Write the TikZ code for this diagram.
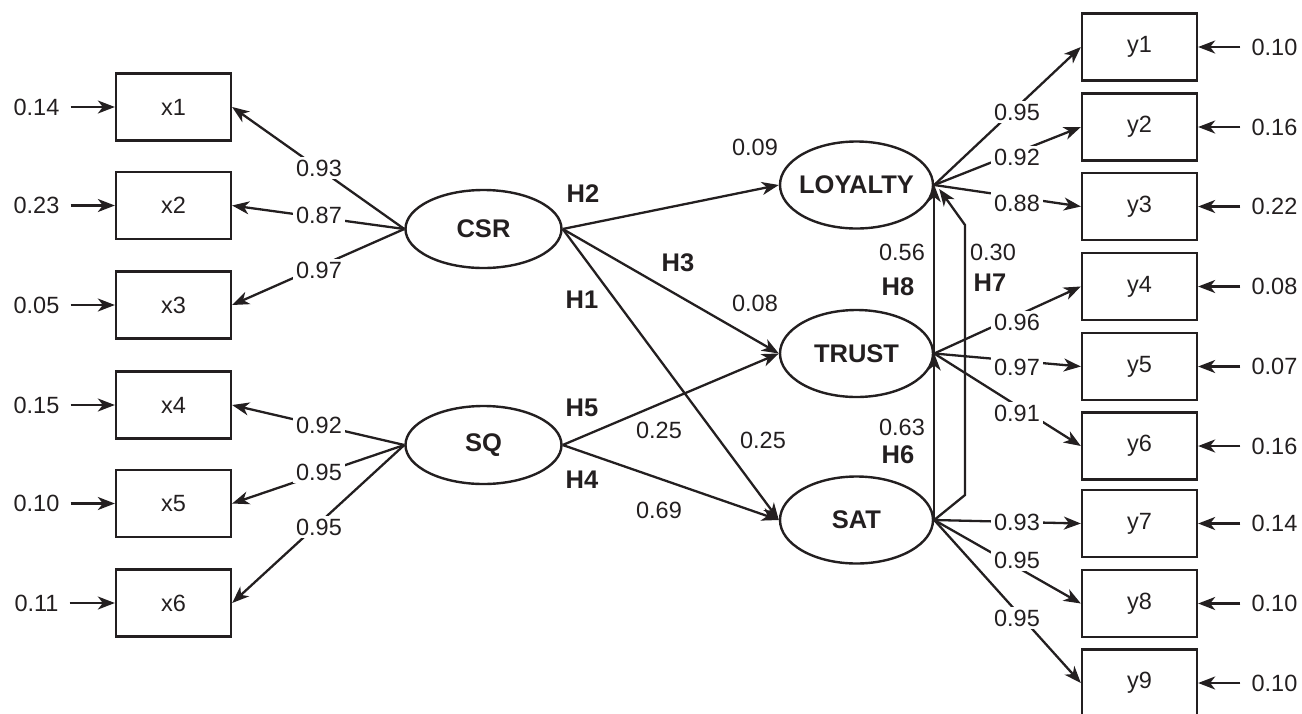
\documentclass[tikz,border=0pt]{standalone}
\usepackage{fontspec}
\setmainfont{Liberation Sans}
\usetikzlibrary{shapes.geometric,arrows.meta}
\definecolor{ink}{HTML}{231F20}

\tikzset{
  num/.style={font=\fontsize{23.5}{28}\selectfont},
  obs/.style={draw, rectangle, minimum width=115pt, minimum height=67pt,
              inner sep=0pt, num},
  lat/.style={draw, ellipse, minimum width=156pt, minimum height=78pt,
              inner sep=0pt, line width=2.4pt,
              font=\fontsize{25.5}{30}\selectfont\bfseries},
  endo/.style={lat, minimum width=153pt, minimum height=87pt},
  arr/.style={-{Stealth[length=17pt,width=13pt,inset=5pt]}},
  res/.style={num, inner xsep=10pt, inner ysep=2pt},
  ld/.style={num, fill=white, inner sep=3pt},
  coef/.style={num, inner sep=1pt},
  hyp/.style={inner sep=1pt, font=\fontsize{25.5}{30}\selectfont\bfseries}
}

\begin{document}
\begin{tikzpicture}[x=1pt, y=-1pt, line width=2.3pt, color=ink]
\useasboundingbox (0,0) rectangle (1302,713);

% latent variables (labels in zero-width boxes so the ellipse keeps its size)
\node[lat]  (csr)   at (483.5,229)   {\makebox[0pt]{CSR}};
\node[lat]  (sq)    at (483.5,445)   {\makebox[0pt]{SQ}};
\node[endo] (loy)   at (856.5,185)   {\makebox[0pt]{LOYALTY}};
\node[endo] (trust) at (856.5,353.5) {\makebox[0pt]{TRUST}};
\node[endo] (sat)   at (856.5,520)   {\makebox[0pt]{SAT}};

% exogenous indicators
\node[obs] (x1) at (173.5,107)   {x1};
\node[obs] (x2) at (173.5,205.5) {x2};
\node[obs] (x3) at (173.5,305)   {x3};
\node[obs] (x4) at (173.5,405)   {x4};
\node[obs] (x5) at (173.5,503.5) {x5};
\node[obs] (x6) at (173.5,603)   {x6};

% endogenous indicators
\node[obs] (y1) at (1139.5,47)    {y1};
\node[obs] (y2) at (1139.5,127)   {y2};
\node[obs] (y3) at (1139.5,206.5) {y3};
\node[obs] (y4) at (1139.5,286.5) {y4};
\node[obs] (y5) at (1139.5,366.5) {y5};
\node[obs] (y6) at (1139.5,446)   {y6};
\node[obs] (y7) at (1139.5,523.5) {y7};
\node[obs] (y8) at (1139.5,603.5) {y8};
\node[obs] (y9) at (1139.5,683)   {y9};

% error terms, left
\node[res] (e1) at (36.5,107)   {0.14};
\node[res] (e2) at (36.5,205.5) {0.23};
\node[res] (e3) at (36.5,305)   {0.05};
\node[res] (e4) at (36.5,405)   {0.15};
\node[res] (e5) at (36.5,503.5) {0.10};
\node[res] (e6) at (36.5,603)   {0.11};
\foreach \i in {1,...,6} \draw[arr] (e\i.east) -- (x\i.west);

% error terms, right
\node[res] (d1) at (1274.5,47)    {0.10};
\node[res] (d2) at (1274.5,127)   {0.16};
\node[res] (d3) at (1274.5,206.5) {0.22};
\node[res] (d4) at (1274.5,286.5) {0.08};
\node[res] (d5) at (1274.5,366.5) {0.07};
\node[res] (d6) at (1274.5,446)   {0.16};
\node[res] (d7) at (1274.5,523.5) {0.14};
\node[res] (d8) at (1274.5,603.5) {0.10};
\node[res] (d9) at (1274.5,683)   {0.10};
\foreach \i in {1,...,9} \draw[arr] (d\i.west) -- (y\i.east);

% measurement paths
\foreach \i in {1,2,3} \draw[arr] (csr.west) -- (x\i.east);
\foreach \i in {4,5,6} \draw[arr] (sq.west) -- (x\i.east);
\foreach \i in {1,2,3} \draw[arr] (loy.east) -- (y\i.west);
\foreach \i in {4,5,6} \draw[arr] (trust.east) -- (y\i.west);
\foreach \i in {7,8,9} \draw[arr] (sat.east) -- (y\i.west);

% structural paths
\draw[arr] (csr.east) -- (loy.west);
\draw[arr] (csr.east) -- (trust.west);
\draw[arr] (csr.east) -- (sat.west);
\draw[arr] (sq.east) -- (trust.west);
\draw[arr] (sq.east) -- (sat.west);
\draw[arr] (sat.east) -- (trust.east);
\draw[arr] (trust.east) -- (loy.east);
\coordinate (h7a) at (965,495);
\coordinate (h7b) at (965,225);
\draw[arr] (sat.east) -- (h7a) -- (h7b) -- ([shift={(5,4)}]loy.east);

% loadings
\node[ld] at (319,168) {0.93};
\node[ld] at (319,215) {0.87};
\node[ld] at (319,270) {0.97};
\node[ld] at (319,425) {0.92};
\node[ld] at (319,472) {0.95};
\node[ld] at (319,527) {0.95};
\node[ld] at (1017,112) {0.95};
\node[ld] at (1017,157) {0.92};
\node[ld] at (1017,203) {0.88};
\node[ld] at (1017,322) {0.96};
\node[ld] at (1017,367) {0.97};
\node[ld] at (1017,413) {0.91};
\node[ld] at (1017,522) {0.93};
\node[ld] at (1017,560) {0.95};
\node[ld] at (1017,618) {0.95};

% structural coefficients and hypotheses
\node[hyp]  at (583,194) {H2};
\node[coef] at (755,147) {0.09};
\node[hyp]  at (678,263) {H3};
\node[coef] at (755,303) {0.08};
\node[hyp]  at (582,300) {H1};
\node[coef] at (763,440) {0.25};
\node[hyp]  at (582,408) {H5};
\node[coef] at (659,430) {0.25};
\node[hyp]  at (582,480) {H4};
\node[coef] at (659,510) {0.69};
\node[coef] at (902,252) {0.56};
\node[hyp]  at (898,287) {H8};
\node[coef] at (993,252) {0.30};
\node[hyp]  at (990,283) {H7};
\node[coef] at (902,427) {0.63};
\node[hyp]  at (898,455) {H6};
\end{tikzpicture}
\end{document}
